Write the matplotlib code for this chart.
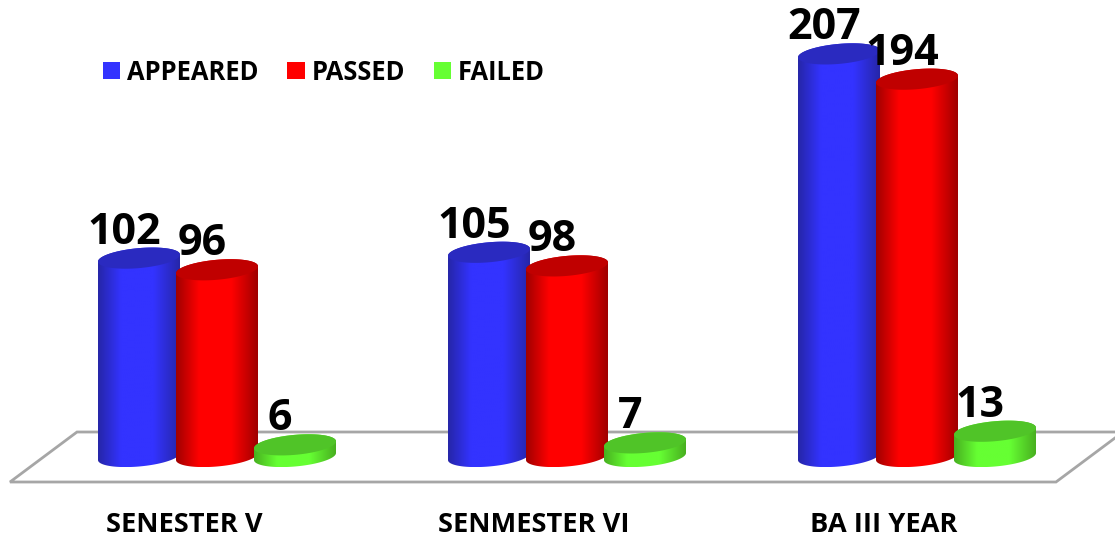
import numpy as np
from matplotlib import pyplot as plt
from matplotlib.colors import LinearSegmentedColormap
from matplotlib.patches import Patch, Polygon

categories = ['SENESTER V', 'SENMESTER VI', 'BA III YEAR']
series_names = ['APPEARED', 'PASSED', 'FAILED']
appeared = [102, 105, 207]
passed = [96, 98, 194]
failed = [6, 7, 13]

# side shade, centre, top cap
blue = ('#2626a8', '#3333ff', '#2a2ac0')
red = ('#a00000', '#ff0000', '#c00000')
green = ('#48b020', '#66ff33', '#50c428')

W, H = 1115, 539
GROUP_PX = 350.0
BAR_STEP_PX = 78.0
UNIT_PX = 1.945
FIRST_X_PX = 217.0   # middle bar of first group
BASE_Y_PX = 456.5
FONT = 'Open Sans'

bar_offset = BAR_STEP_PX / GROUP_PX
rx = 41.0 / GROUP_PX
ry = 10.0 / UNIT_PX
tilt = 3.5 / UNIT_PX
cap_top = np.hypot(ry, tilt)


def px_x(px):
    return px / GROUP_PX


def px_y(px):
    return px / UNIT_PX


def draw_cylinder(ax, x, value, colors, z):
    t = np.linspace(0, 2 * np.pi, 200)
    ex = x + rx * np.cos(t)
    ey = ry * np.sin(t) + tilt * np.cos(t)

    # body: lower half of base ellipse, then upper half of the top ellipse
    low = np.linspace(np.pi, 2 * np.pi, 100)
    up = np.linspace(0, np.pi, 100)
    body_x = np.r_[x + rx * np.cos(low), x + rx * np.cos(up)]
    body_y = np.r_[ry * np.sin(low) + tilt * np.cos(low), value + ry * np.sin(up) + tilt * np.cos(up)]
    body = Polygon(np.c_[body_x, body_y], closed=True, fc='none', ec='none', zorder=z)
    ax.add_patch(body)

    cmap = LinearSegmentedColormap.from_list('side', [(0, colors[0]), (0.28, colors[1]), (0.68, colors[1]), (1, colors[0])])
    grad = np.linspace(0, 1, 128).reshape(1, -1)
    im = ax.imshow(grad, cmap=cmap, aspect='auto', zorder=z, interpolation='bilinear',
                   extent=(x - rx, x + rx, -cap_top, value + cap_top))
    im.set_clip_path(body)

    ax.fill(ex, value + ey, color=colors[2], lw=0, zorder=z + 0.1)

    ax.text(x - px_x(15), value + cap_top + px_y(4), str(value), ha='center', va='baseline',
            fontsize=31, fontweight='bold', family=FONT, color='black', zorder=10)


fig = plt.figure(figsize=(W / 100, H / 100), dpi=100)
ax = fig.add_axes([0, 0, 1, 1])

# floor of the chart
floor_px = [(10, 482), (1056, 482), (1123, 432), (77, 432)]
floor = [(x / W, 1 - y / H) for x, y in floor_px]
ax.add_patch(Polygon(floor, closed=True, fc='white', ec='#a6a6a6', lw=2, transform=ax.transAxes, zorder=1))

for i in range(len(categories)):
    draw_cylinder(ax, i - bar_offset, appeared[i], blue, 2)
    draw_cylinder(ax, i, passed[i], red, 3)
    draw_cylinder(ax, i + bar_offset, failed[i], green, 4)
    ax.text(i - px_x(33), -px_y(532 - BASE_Y_PX), categories[i], ha='center', va='baseline',
            fontsize=19.6, fontweight='bold', family=FONT, color='black')

ax.set_xlim(-FIRST_X_PX / GROUP_PX, (W - FIRST_X_PX) / GROUP_PX)
ax.set_ylim(-(H - BASE_Y_PX) / UNIT_PX, BASE_Y_PX / UNIT_PX)
ax.axis('off')

handles = [Patch(fc=blue[1], ec='none'), Patch(fc=red[1], ec='none'), Patch(fc=green[1], ec='none')]
ax.legend(handles, series_names, ncol=3, frameon=False, loc='center left', bbox_to_anchor=(103 / W, 1 - 72 / H),
          borderpad=0, borderaxespad=0, handlelength=0.67, handleheight=0.67, handletextpad=0.27, columnspacing=1.13,
          prop={'family': FONT, 'weight': 'bold', 'size': 18.4})

fig.savefig('out.png', dpi=100)
plt.close()
